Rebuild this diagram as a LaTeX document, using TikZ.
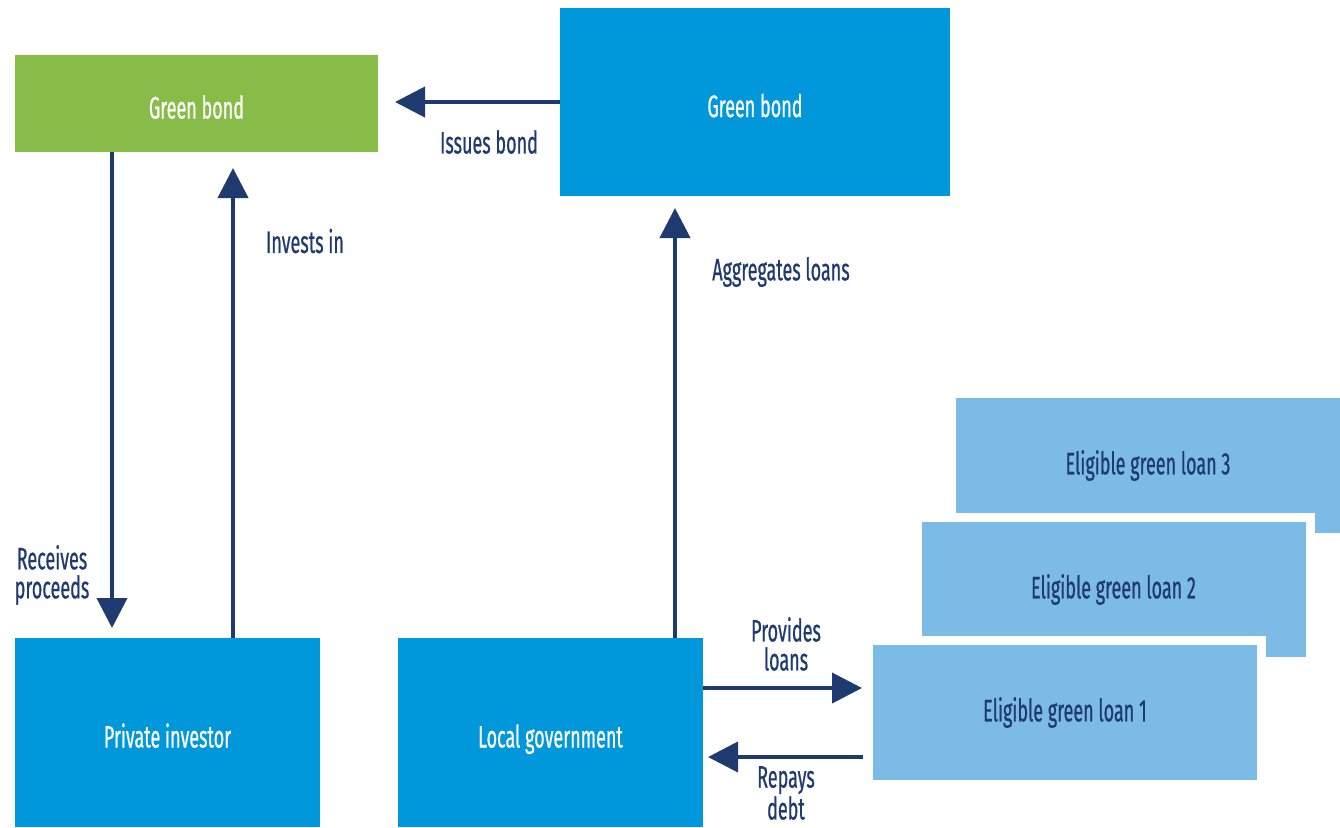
\documentclass[tikz,border=0pt]{standalone}
\usepackage{fontspec}
\setmainfont[FakeStretch=0.58,FakeBold=0.6]{Fira Sans}
\usepackage{tikz}
\usetikzlibrary{arrows.meta,calc,positioning}
\definecolor{bondgreen}{RGB}{134,188,71}
\definecolor{boxblue}{RGB}{0,152,218}
\definecolor{loanblue}{RGB}{124,187,230}
\definecolor{navy}{RGB}{31,58,110}
\newdimen\gap
\gap=4.5pt
\tikzstyle{entity}=[
  fill=boxblue,
  font={\fontsize{15.5pt}{14.5pt}\selectfont},
  text=white,
  inner sep=0pt,
  outer sep=0pt,
  rectangle,
  text centered,
]
\tikzstyle{party}=[
  entity,
  text height=15pt,
  text depth=0pt,
]
\tikzstyle{loan}=[
  entity,
  fill=loanblue,
  draw=white,
  line width=\gap,
  text=navy,
  minimum width=196.5pt,
  minimum height=72pt,
]
\tikzstyle{flow}=[
  color=navy,
  draw=navy,
  line width=2pt,
]
\tikzstyle{flowlabel}=[
  color=navy,
  font={\fontsize{15.5pt}{14.5pt}\selectfont},
  align=center,
  inner sep=0pt,
]
\tikzset{
  x=0.5pt, y=-0.5pt,
  >={Triangle[length=15pt,width=15pt]},
}
\begin{document}
\begin{tikzpicture}
    \useasboundingbox (0,0) rectangle (1340,827);
    \node (greenbond) [party, fill=bondgreen, minimum width=181.5pt, minimum height=48.5pt] at (196.5,103.5) {Green bond};
    \node (bluebond) [party, minimum width=195pt, minimum height=94pt] at (755,102) {Green bond};
    \node (investor) [party, minimum width=152.5pt, minimum height=94.5pt] at (167.5,732.5) {Private investor};
    \node (localgov) [party, minimum width=152.5pt, minimum height=94.5pt] at (550.5,732.5) {Local government};
    %%
    \node (loan3) [loan] at (1148,465.5) {Eligible green loan 3};
    \node (loan2) [loan] at (1113.5,589.5) {Eligible green loan 2};
    \node (loan1) [loan] at (1065,712.5) {Eligible green loan 1};
    %%
    \coordinate (recv) at (112,0);
    \coordinate (inv) at (233,0);
    \coordinate (agg) at (675,0);
    \coordinate (prov) at (0,688);
    \coordinate (rep) at (0,757);
    %%
    \draw [->, flow, shorten >=8.5pt] (bluebond.west) -- (bluebond.west -| greenbond.east);
    \draw [->, flow, shorten >=5pt] (greenbond.south -| recv) -- (investor.north -| recv);
    \draw [->, flow, shorten >=8pt] (investor.north -| inv) -- (greenbond.south -| inv);
    \draw [->, flow, shorten >=6pt] (localgov.north -| agg) -- (bluebond.south -| agg);
    \draw [->, flow, shorten >=3.25pt] (localgov.east |- prov) -- (loan1.west |- prov);
    \draw [->, flow, shorten <=2.75pt, shorten >=2.5pt] (loan1.west |- rep) -- (localgov.east |- rep);
    %%
    \node (issueslbl) [flowlabel] at (489,142) {Issues bond};
    \node (investslbl) [flowlabel] at (305,241) {Invests in};
    \node (recvlbl) [flowlabel] at (52,575) {Receives\\proceeds};
    \node (agglbl) [flowlabel] at (781,272) {Aggregates loans};
    \node (provlbl) [flowlabel] at (786,644) {Provides\\loans};
    \node (replbl) [flowlabel] at (786,793) {Repays\\debt};
\end{tikzpicture}
\end{document}
